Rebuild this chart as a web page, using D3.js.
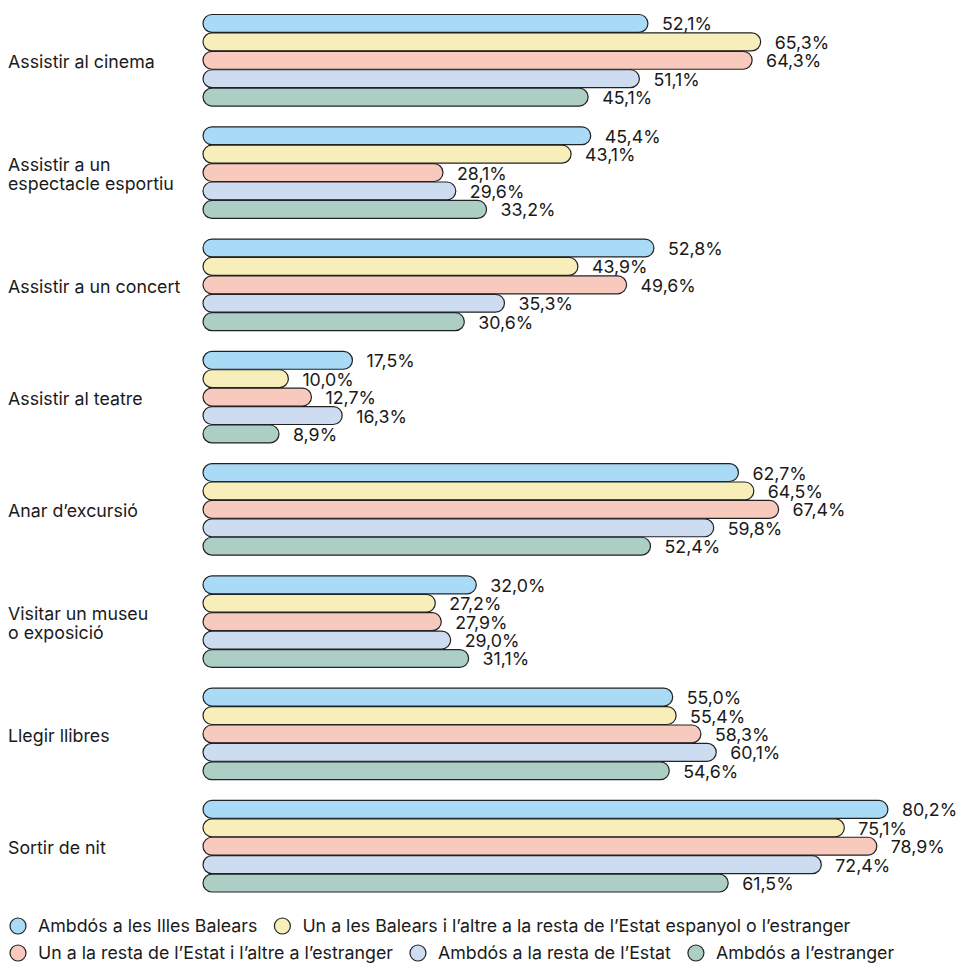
<!DOCTYPE html>
<html>
<head>
<meta charset="utf-8">
<script src="https://cdn.jsdelivr.net/npm/d3@7"></script>
<style>
  body { margin: 0; background: #fff; }
  text { font-family: "Inter", "Liberation Sans", sans-serif; fill: #1a1a1a; }
</style>
</head>
<body>
<svg id="chart" width="958" height="963"></svg>
<script>
// categories (each line of label separated by \n)
const categories = [
    "Assistir al cinema",
    "Assistir a un\nespectacle esportiu",
    "Assistir a un concert",
    "Assistir al teatre",
    "Anar d’excursió",
    "Visitar un museu\no exposició",
    "Llegir llibres",
    "Sortir de nit"
];

const seriesNames = [
    "Ambdós a les Illes Balears",
    "Un a les Balears i l’altre a la resta de l’Estat espanyol o l’estranger",
    "Un a la resta de l’Estat i l’altre a l’estranger",
    "Ambdós a la resta de l’Estat",
    "Ambdós a l’estranger"
];

const seriesColors = ["#a9daf6", "#f7eeb9", "#f8c9bd", "#cddcf1", "#accec4"];

// valors per sèrie, en l'ordre de categories
const balears    = [52.1, 45.4, 52.8, 17.5, 62.7, 32.0, 55.0, 80.2];
const balearsAltre = [65.3, 43.1, 43.9, 10.0, 64.5, 27.2, 55.4, 75.1];
const estatEstranger = [64.3, 28.1, 49.6, 12.7, 67.4, 27.9, 58.3, 78.9];
const restaEstat = [51.1, 29.6, 35.3, 16.3, 59.8, 29.0, 60.1, 72.4];
const estranger  = [45.1, 33.2, 30.6, 8.9, 52.4, 31.1, 54.6, 61.5];

const seriesValues = [balears, balearsAltre, estatEstranger, restaEstat, estranger];

const svg = d3.select("#chart");
const fontSize = "17.8px";

// escales
const x = d3.scaleLinear().domain([0, 100]).range([203, 203 + 854]);
const y0 = d3.scaleBand().domain(categories).range([14, 892]).paddingInner(0.18).paddingOuter(0);
const y1 = d3.scaleBand().domain(d3.range(seriesNames.length)).range([0, y0.bandwidth()]).padding(0);

const barH = y1.bandwidth();
const fmt = v => v.toFixed(1).replace(".", ",") + "%";

// grups
const groups = svg.selectAll(".grp")
    .data(categories)
    .enter()
    .append("g")
    .attr("class", "grp")
    .attr("transform", d => `translate(0,${y0(d)})`);

groups.each(function(cat, ci) {
    const g = d3.select(this);
    const rows = seriesValues.map((vals, si) => ({ si, v: vals[ci] }));

    g.selectAll("rect")
        .data(rows)
        .enter()
        .append("rect")
        .attr("x", x(0))
        .attr("y", d => y1(d.si) + 0.5)
        .attr("width", d => x(d.v) - x(0))
        .attr("height", barH - 0.5)
        .attr("rx", (barH - 0.5) / 2)
        .attr("fill", d => seriesColors[d.si])
        .attr("stroke", "#222")
        .attr("stroke-width", 1.2);

    g.selectAll(".val")
        .data(rows)
        .enter()
        .append("text")
        .attr("class", "val")
        .attr("x", d => x(d.v) + 14)
        .attr("y", d => y1(d.si) + barH / 2 + 1)
        .attr("dy", "0.35em")
        .style("font-size", fontSize)
        .text(d => fmt(d.v));

    // etiqueta de categoria
    const lines = cat.split("\n");
    const cy = y0.bandwidth() / 2 + 2;
    const lh = 19;
    const lbl = g.append("text")
        .attr("x", 8)
        .style("font-size", fontSize);
    lines.forEach((ln, i) => {
        lbl.append("tspan")
            .attr("x", 8)
            .attr("y", cy + (i - (lines.length - 1) / 2) * lh)
            .attr("dy", "0.35em")
            .text(ln);
    });
});

// llegenda (flux en dues files)
const legend = svg.append("g");
let lx = 10, ly = 926;
seriesNames.forEach((name, i) => {
    const item = legend.append("g");
    item.append("circle")
        .attr("cx", 8)
        .attr("cy", 0)
        .attr("r", 8)
        .attr("fill", seriesColors[i])
        .attr("stroke", "#222")
        .attr("stroke-width", 1.2);
    const t = item.append("text")
        .attr("x", 28)
        .attr("y", 0)
        .attr("dy", "0.35em")
        .style("font-size", fontSize)
        .text(name);
    const w = 28 + t.node().getComputedTextLength() + 17;
    if (lx + w > 958 && lx > 10) { lx = 10; ly += 27; }
    item.attr("transform", `translate(${lx},${ly})`);
    lx += w;
});
</script>
</body>
</html>
